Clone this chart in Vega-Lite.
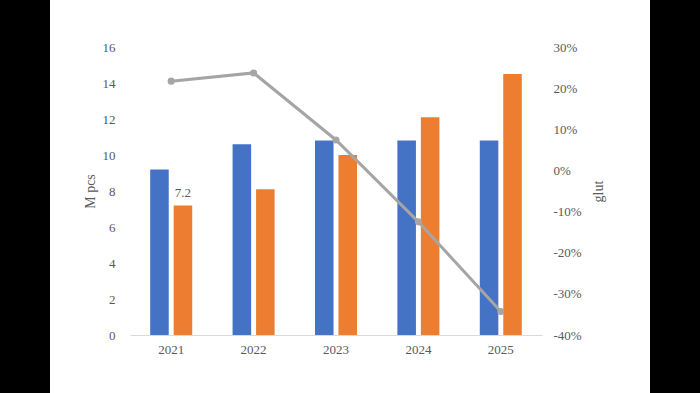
{
  "$schema": "https://vega.github.io/schema/vega-lite/v6.json",
  "width": 600,
  "height": 393,
  "autosize": "none",
  "padding": {"left": 50, "right": 50, "top": 0, "bottom": 0},
  "background": "black",
  "view": {"fill": "white", "stroke": null},
  "config": {
    "locale": {"number": {"decimal": ".", "thousands": ",", "grouping": [3], "currency": ["$", ""], "minus": "-"}},
    "font": "Liberation Serif",
    "axis": {
      "labelFont": "Liberation Serif",
      "titleFont": "Liberation Serif",
      "labelColor": "#595959",
      "titleColor": "#595959",
      "labelFontSize": 13,
      "titleFontSize": 14,
      "titleFontWeight": "normal",
      "grid": false,
      "ticks": false,
      "domain": false
    }
  },
  "datasets": {
    "bars": [
      {"year": "2021", "series": "Supply", "value": 9.2},
      {"year": "2021", "series": "Demand", "value": 7.2},
      {"year": "2022", "series": "Supply", "value": 10.6},
      {"year": "2022", "series": "Demand", "value": 8.1},
      {"year": "2023", "series": "Supply", "value": 10.8},
      {"year": "2023", "series": "Demand", "value": 10.0},
      {"year": "2024", "series": "Supply", "value": 10.8},
      {"year": "2024", "series": "Demand", "value": 12.1},
      {"year": "2025", "series": "Supply", "value": 10.8},
      {"year": "2025", "series": "Demand", "value": 14.5}
    ],
    "glut": [
      {"year": "2021", "glut": 0.217},
      {"year": "2022", "glut": 0.237},
      {"year": "2023", "glut": 0.074},
      {"year": "2024", "glut": -0.125},
      {"year": "2025", "glut": -0.343}
    ]
  },
  "layer": [
    {
      "data": {"name": "bars"},
      "encoding": {
        "x": {
          "field": "year",
          "type": "nominal",
          "scale": {"range": [80, 492], "paddingInner": 0.49, "paddingOuter": 0.245},
          "axis": {"domain": true, "domainColor": "#D9D9D9", "domainWidth": 1, "labelAngle": 0, "title": null, "offset": -58, "labelPadding": 8}
        },
        "xOffset": {"field": "series", "type": "nominal", "sort": ["Supply", "Demand"], "scale": {"paddingInner": 0.21}},
        "y": {
          "field": "value",
          "type": "quantitative",
          "scale": {"domain": [0, 16], "range": [335, 47], "nice": false, "zero": true},
          "axis": {"orient": "left", "values": [0, 2, 4, 6, 8, 10, 12, 14, 16], "offset": -67, "labelPadding": 2, "title": "M pcs", "titlePadding": 5}
        }
      },
      "layer": [
        {
          "mark": {"type": "bar"},
          "encoding": {
            "color": {"field": "series", "type": "nominal", "scale": {"domain": ["Supply", "Demand"], "range": ["#4472C4", "#ED7D31"]}, "legend": null}
          }
        },
        {
          "transform": [{"filter": "datum.year == '2021' && datum.series == 'Demand'"}],
          "mark": {"type": "text", "baseline": "bottom", "dy": -5, "font": "Liberation Serif", "fontSize": 13, "color": "#595959"},
          "encoding": {"text": {"field": "value", "type": "quantitative", "format": ".1f"}}
        }
      ]
    },
    {
      "data": {"name": "glut"},
      "mark": {"type": "line", "color": "#A5A5A5", "strokeWidth": 3, "point": {"filled": true, "size": 50, "color": "#A5A5A5"}},
      "encoding": {
        "x": {"field": "year", "type": "nominal"},
        "y": {
          "field": "glut",
          "type": "quantitative",
          "scale": {"domain": [-0.4, 0.3], "range": [335, 47], "nice": false, "zero": false},
          "axis": {"orient": "right", "values": [-0.4, -0.3, -0.2, -0.1, 0, 0.1, 0.2, 0.3], "format": ".0%", "offset": -99, "labelPadding": 2, "title": "glut", "titleAngle": -90, "titlePadding": 24}
        }
      }
    }
  ],
  "resolve": {"scale": {"y": "independent"}}
}
